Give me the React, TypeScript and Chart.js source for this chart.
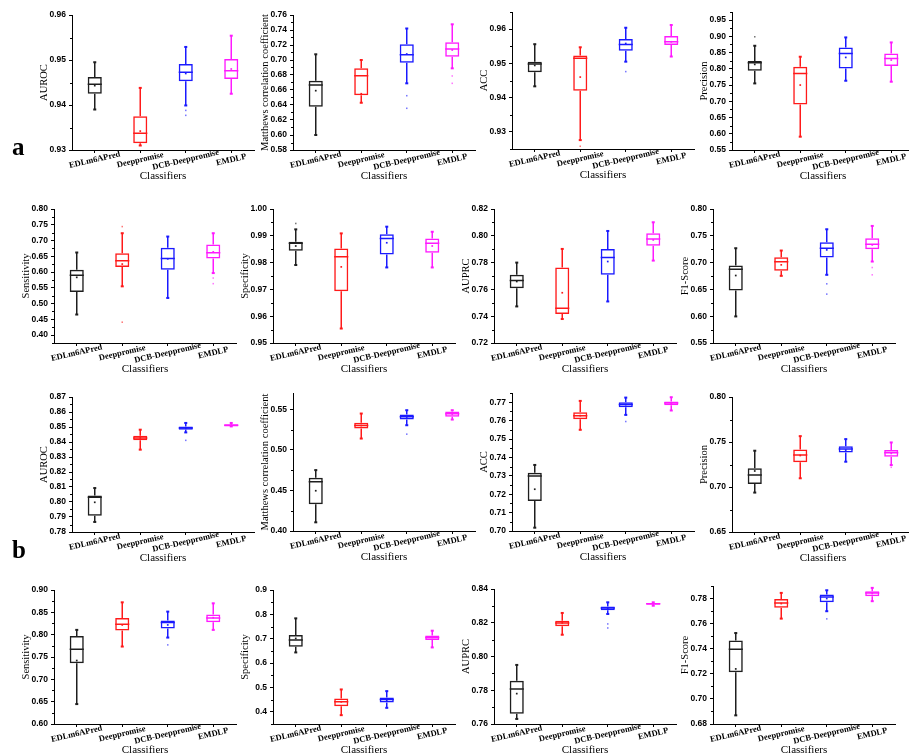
import React, { useEffect, useRef } from 'react';
import { Chart, registerables } from 'chart.js';
Chart.register(...registerables);

// ---------- DATA ----------
const classifiers = ['EDLm6APred', 'Deeppromise', 'DCB-Deeppromise', 'EMDLP'];

// each row: [whiskerLow, q1, median, q3, whiskerHigh, mean]
const aAurocBox = [[0.9390, 0.9425, 0.9446, 0.9462, 0.9495, 0.9443], [0.9310, 0.9315, 0.9337, 0.9375, 0.9438, 0.9342], [0.9399, 0.9453, 0.9473, 0.9491, 0.9529, 0.9470], [0.9425, 0.9458, 0.9476, 0.9502, 0.9554, 0.9480]];
const aAurocOut = [[], [], [0.9388, 0.9377], []];
const aMccBox = [[0.6000, 0.6378, 0.6667, 0.6724, 0.7076, 0.6591], [0.6430, 0.6530, 0.6790, 0.6890, 0.7000, 0.6550], [0.6689, 0.6964, 0.7070, 0.7210, 0.7420, 0.7080], [0.6889, 0.7044, 0.7147, 0.7236, 0.7476, 0.7133]];
const aMccOut = [[], [], [0.6524, 0.6356], [0.6787, 0.6689]];
const aAccBox = [[0.9433, 0.9474, 0.9498, 0.9505, 0.9556, 0.9494], [0.9276, 0.9420, 0.9515, 0.9523, 0.9547, 0.9460], [0.9505, 0.9537, 0.9555, 0.9571, 0.9604, 0.9558], [0.9520, 0.9554, 0.9563, 0.9580, 0.9612, 0.9563]];
const aAccOut = [[], [0.9258], [0.9476], []];
const aPrecBox = [[0.7551, 0.7941, 0.8187, 0.8238, 0.8710, 0.8136], [0.5910, 0.6905, 0.7859, 0.8064, 0.8372, 0.7500], [0.7633, 0.8013, 0.8474, 0.8659, 0.8967, 0.8351], [0.7603, 0.8085, 0.8320, 0.8474, 0.8813, 0.8270]];
const aPrecOut = [[0.8987], [], [], []];
const aSensBox = [[0.4653, 0.5368, 0.5895, 0.6074, 0.6620, 0.5832], [0.5547, 0.6158, 0.6358, 0.6600, 0.7232, 0.6253], [0.5179, 0.6074, 0.6432, 0.6768, 0.7126, 0.6420], [0.5968, 0.6432, 0.6610, 0.6874, 0.7232, 0.6640]];
const aSensOut = [[], [0.7442, 0.4410], [], [0.5810, 0.5632]];
const aSpecBox = [[0.9791, 0.9844, 0.9872, 0.9878, 0.9924, 0.9862], [0.9554, 0.9693, 0.9822, 0.9853, 0.9909, 0.9784], [0.9782, 0.9830, 0.9890, 0.9906, 0.9934, 0.9874], [0.9782, 0.9837, 0.9872, 0.9890, 0.9915, 0.9862]];
const aSpecOut = [[0.9946], [], [], []];
const aAuprcBox = [[0.7473, 0.7609, 0.7666, 0.7709, 0.7800, 0.7659], [0.7379, 0.7416, 0.7460, 0.7763, 0.7902, 0.7575], [0.7510, 0.7709, 0.7838, 0.7902, 0.8036, 0.7808], [0.7815, 0.7925, 0.7977, 0.8019, 0.8101, 0.7969]];
const aAuprcOut = [[], [], [], []];
const aF1Box = [[0.5996, 0.6480, 0.6877, 0.6945, 0.7268, 0.6759], [0.6753, 0.6846, 0.7014, 0.7101, 0.7225, 0.6958], [0.6772, 0.7094, 0.7268, 0.7380, 0.7622, 0.7237], [0.7020, 0.7249, 0.7342, 0.7454, 0.7684, 0.7330]];
const aF1Out = [[], [], [0.6604, 0.6412], [0.6908, 0.6772]];

const bAurocBox = [[0.7867, 0.7909, 0.8031, 0.8044, 0.8093, 0.7998], [0.8349, 0.8411, 0.8427, 0.8442, 0.8482, 0.8427], [0.8464, 0.8482, 0.8493, 0.8504, 0.8527, 0.8491], [0.8504, 0.8504, 0.8511, 0.8518, 0.8527, 0.8511]];
const bAurocOut = [[], [], [0.8411], []];
const bMccBox = [[0.4107, 0.4328, 0.4607, 0.4656, 0.4750, 0.4496], [0.5139, 0.5262, 0.5299, 0.5332, 0.5447, 0.5299], [0.5303, 0.5373, 0.5406, 0.5434, 0.5488, 0.5404], [0.5373, 0.5406, 0.5443, 0.5471, 0.5488, 0.5441]];
const bMccOut = [[], [], [0.5193], []];
const bAccBox = [[0.7018, 0.7163, 0.7299, 0.7317, 0.7359, 0.7227], [0.7550, 0.7608, 0.7627, 0.7646, 0.7707, 0.7627], [0.7631, 0.7673, 0.7687, 0.7700, 0.7725, 0.7687], [0.7655, 0.7684, 0.7695, 0.7704, 0.7727, 0.7695]];
const bAccOut = [[], [], [0.7595], []];
const bPrecBox = [[0.6938, 0.7034, 0.7134, 0.7208, 0.7403, 0.7178], [0.7097, 0.7274, 0.7355, 0.7418, 0.7565, 0.7350], [0.7281, 0.7384, 0.7421, 0.7454, 0.7532, 0.7410], [0.7244, 0.7337, 0.7381, 0.7410, 0.7495, 0.7373]];
const bPrecOut = [[], [], [], [0.7219]];
const bSensBox = [[0.6446, 0.7362, 0.7675, 0.7972, 0.8107, 0.7421], [0.7734, 0.8092, 0.8233, 0.8375, 0.8724, 0.8218], [0.7935, 0.8136, 0.8270, 0.8315, 0.8516, 0.8218], [0.8107, 0.8278, 0.8375, 0.8449, 0.8702, 0.8380]];
const bSensOut = [[], [], [0.7771], []];
const bSpecBox = [[0.6438, 0.6671, 0.6945, 0.7150, 0.7836, 0.7014], [0.3863, 0.4233, 0.4411, 0.4548, 0.4918, 0.4411], [0.4164, 0.4384, 0.4507, 0.4589, 0.4849, 0.4480], [0.6644, 0.6945, 0.7055, 0.7137, 0.7329, 0.7055]];
const bSpecOut = [[], [], [], []];
const bAuprcBox = [[0.7630, 0.7661, 0.7807, 0.7857, 0.7950, 0.7780], [0.8129, 0.8179, 0.8199, 0.8212, 0.8258, 0.8199], [0.8252, 0.8274, 0.8287, 0.8297, 0.8321, 0.8287], [0.8301, 0.8307, 0.8313, 0.8317, 0.8321, 0.8313]];
const bAuprcOut = [[], [], [0.8193, 0.8169], []];
const bF1Box = [[0.6869, 0.7212, 0.7395, 0.7465, 0.7525, 0.7239], [0.7640, 0.7726, 0.7765, 0.7797, 0.7845, 0.7760], [0.7699, 0.7771, 0.7813, 0.7832, 0.7866, 0.7800], [0.7779, 0.7819, 0.7845, 0.7859, 0.7885, 0.7840]];
const bF1Out = [[], [], [0.7638], []];

// y-axis tick labels (major ticks)
const ticksAAuroc = [0.93, 0.94, 0.95, 0.96];
const ticksAMcc = [0.58, 0.60, 0.62, 0.64, 0.66, 0.68, 0.70, 0.72, 0.74, 0.76];
const ticksAAcc = [0.93, 0.94, 0.95, 0.96];
const ticksAPrec = [0.55, 0.60, 0.65, 0.70, 0.75, 0.80, 0.85, 0.90, 0.95];
const ticksASens = [0.40, 0.45, 0.50, 0.55, 0.60, 0.65, 0.70, 0.75, 0.80];
const ticksASpec = [0.95, 0.96, 0.97, 0.98, 0.99, 1.00];
const ticksAAuprc = [0.72, 0.74, 0.76, 0.78, 0.80, 0.82];
const ticksAF1 = [0.55, 0.60, 0.65, 0.70, 0.75, 0.80];
const ticksBAuroc = [0.78, 0.79, 0.80, 0.81, 0.82, 0.83, 0.84, 0.85, 0.86, 0.87];
const ticksBMcc = [0.40, 0.45, 0.50, 0.55];
const ticksBAcc = [0.70, 0.71, 0.72, 0.73, 0.74, 0.75, 0.76, 0.77];
const ticksBPrec = [0.65, 0.70, 0.75, 0.80];
const ticksBSens = [0.60, 0.65, 0.70, 0.75, 0.80, 0.85, 0.90];
const ticksBSpec = [0.4, 0.5, 0.6, 0.7, 0.8, 0.9];
const ticksBAuprc = [0.76, 0.78, 0.80, 0.82, 0.84];
const ticksBF1 = [0.68, 0.70, 0.72, 0.74, 0.76, 0.78];

const metricTitles = ['AUROC', 'Matthews correlation coefficient', 'ACC', 'Precision', 'Sensitivity', 'Specificity', 'AUPRC', 'F1-Score'];

type Panel = { title: string; box: number[][]; out: number[][]; ticks: number[]; min: number; max: number; dec: number };

const panels: Panel[] = [
  { title: metricTitles[0], box: aAurocBox, out: aAurocOut, ticks: ticksAAuroc, min: 0.93, max: 0.96, dec: 2 },
  { title: metricTitles[1], box: aMccBox, out: aMccOut, ticks: ticksAMcc, min: 0.58, max: 0.76, dec: 2 },
  { title: metricTitles[2], box: aAccBox, out: aAccOut, ticks: ticksAAcc, min: 0.925, max: 0.965, dec: 2 },
  { title: metricTitles[3], box: aPrecBox, out: aPrecOut, ticks: ticksAPrec, min: 0.55, max: 0.975, dec: 2 },
  { title: metricTitles[4], box: aSensBox, out: aSensOut, ticks: ticksASens, min: 0.375, max: 0.80, dec: 2 },
  { title: metricTitles[5], box: aSpecBox, out: aSpecOut, ticks: ticksASpec, min: 0.95, max: 1.00, dec: 2 },
  { title: metricTitles[6], box: aAuprcBox, out: aAuprcOut, ticks: ticksAAuprc, min: 0.72, max: 0.82, dec: 2 },
  { title: metricTitles[7], box: aF1Box, out: aF1Out, ticks: ticksAF1, min: 0.55, max: 0.80, dec: 2 },
  { title: metricTitles[0], box: bAurocBox, out: bAurocOut, ticks: ticksBAuroc, min: 0.78, max: 0.87, dec: 2 },
  { title: metricTitles[1], box: bMccBox, out: bMccOut, ticks: ticksBMcc, min: 0.40, max: 0.57, dec: 2 },
  { title: metricTitles[2], box: bAccBox, out: bAccOut, ticks: ticksBAcc, min: 0.70, max: 0.775, dec: 2 },
  { title: metricTitles[3], box: bPrecBox, out: bPrecOut, ticks: ticksBPrec, min: 0.65, max: 0.80, dec: 2 },
  { title: metricTitles[4], box: bSensBox, out: bSensOut, ticks: ticksBSens, min: 0.60, max: 0.90, dec: 2 },
  { title: metricTitles[5], box: bSpecBox, out: bSpecOut, ticks: ticksBSpec, min: 0.35, max: 0.90, dec: 1 },
  { title: metricTitles[6], box: bAuprcBox, out: bAuprcOut, ticks: ticksBAuprc, min: 0.76, max: 0.84, dec: 2 },
  { title: metricTitles[7], box: bF1Box, out: bF1Out, ticks: ticksBF1, min: 0.68, max: 0.79, dec: 2 },
];

// ---------- LAYOUT / STYLE ----------
const rowLefts = [[72, 293, 512, 732], [54, 273, 494, 713], [72, 293, 512, 732], [54, 273, 494, 713]];
const panelTops = [[15, 15, 12, 12], [209, 209, 209, 209], [397, 393, 393, 397], [590, 590, 589, 586]];
const panelBottoms = [[150, 150, 149, 150], [343, 343, 343, 343], [532, 531, 531, 532], [724, 724, 724, 724]];
const PLOT_W = 184;
const PAD_L = 62;
const PAD_T = 10;
const PAD_B = 36;

const seriesColors = ['#1e1e1e', '#ff1a1a', '#1a1aff', '#ff1aff'];
const outlierColors = ['rgba(30,30,30,0.6)', 'rgba(255,30,30,0.6)', 'rgba(30,30,255,0.6)', 'rgba(255,30,255,0.6)'];

function BoxPanel({ p, left, top, bottom }: { p: Panel; left: number; top: number; bottom: number }) {
  const ref = useRef<HTMLCanvasElement>(null);
  const w = PAD_L + PLOT_W + 2;
  const h = PAD_T + (bottom - top) + PAD_B;

  useEffect(() => {
    if (!ref.current) return;
    const extras = {
      id: 'boxExtras',
      afterDatasetsDraw(chart: any) {
        const { ctx, scales, chartArea } = chart;
        const y = scales.y;
        const x = scales.x;
        const meta = chart.getDatasetMeta(0);
        p.box.forEach((b, i) => {
          const el = meta.data[i];
          const cx = el.x;
          const bw = el.width;
          ctx.save();
          ctx.strokeStyle = seriesColors[i];
          ctx.fillStyle = seriesColors[i];
          ctx.lineWidth = 1.5;
          const yLo = y.getPixelForValue(b[0]);
          const yQ1 = y.getPixelForValue(b[1]);
          const yMed = y.getPixelForValue(b[2]);
          const yQ3 = y.getPixelForValue(b[3]);
          const yHi = y.getPixelForValue(b[4]);
          ctx.beginPath();
          ctx.moveTo(cx, yQ3); ctx.lineTo(cx, yHi);
          ctx.moveTo(cx, yQ1); ctx.lineTo(cx, yLo);
          ctx.moveTo(cx - bw / 2, yMed); ctx.lineTo(cx + bw / 2, yMed);
          ctx.stroke();
          ctx.fillRect(cx - 1.5, yHi - 1, 3, 2);
          ctx.fillRect(cx - 1.5, yLo - 1, 3, 2);
          ctx.restore();
        });
        // minor ticks on y axis
        const t = p.ticks;
        const step = t[1] - t[0];
        ctx.save();
        ctx.strokeStyle = '#000';
        ctx.lineWidth = 1;
        ctx.beginPath();
        for (let v = t[0] - step / 2; v <= p.max + 1e-9; v += step) {
          if (v < p.min - 1e-9) continue;
          const py = Math.round(y.getPixelForValue(v)) + 0.5;
          ctx.moveTo(chartArea.left - 2, py);
          ctx.lineTo(chartArea.left, py);
        }
        ctx.stroke();
        ctx.restore();
        // category labels (rotated, centred on ticks)
        ctx.save();
        ctx.fillStyle = '#000';
        ctx.font = 'bold 8.5px "Liberation Serif"';
        ctx.textAlign = 'center';
        ctx.textBaseline = 'middle';
        classifiers.forEach((c, i) => {
          const px = x.getPixelForValue(i);
          ctx.save();
          ctx.translate(px, chartArea.bottom + 10);
          ctx.rotate(-13 * Math.PI / 180);
          ctx.fillText(c, 0, 0);
          ctx.restore();
        });
        // x-axis title
        ctx.font = '11px "Liberation Serif"';
        ctx.fillText('Classifiers', (chartArea.left + chartArea.right) / 2, chartArea.bottom + 26);
        // y-axis title
        ctx.font = '10.5px "Liberation Serif"';
        ctx.translate(chartArea.left - 28, (chartArea.top + chartArea.bottom) / 2);
        ctx.rotate(-Math.PI / 2);
        ctx.fillText(p.title, 0, 0);
        ctx.restore();
      },
    };

    const chart = new Chart(ref.current, {
      type: 'bar',
      data: {
        labels: classifiers,
        datasets: [
          {
            type: 'bar',
            data: p.box.map((b) => [b[1], b[3]]) as any,
            backgroundColor: 'rgba(255,255,255,0)',
            borderColor: seriesColors,
            borderWidth: 1.5,
            borderSkipped: false,
            barPercentage: 0.31,
            categoryPercentage: 1,
          } as any,
          {
            type: 'scatter',
            data: p.box.map((b, i) => ({ x: classifiers[i], y: b[5] })) as any,
            pointStyle: 'rect',
            pointRadius: 1.2,
            backgroundColor: seriesColors,
            borderWidth: 0,
          } as any,
          {
            type: 'scatter',
            data: p.out.flatMap((arr, i) => arr.map((v) => ({ x: classifiers[i], y: v, c: i }))) as any,
            pointStyle: 'rect',
            pointRadius: 1.1,
            backgroundColor: (ctx: any) => outlierColors[ctx.raw ? ctx.raw.c : 0],
            borderWidth: 0,
          } as any,
        ],
      },
      options: {
        animation: false,
        responsive: false,
        maintainAspectRatio: false,
        events: [],
        layout: { padding: { top: PAD_T, left: 0, right: 2, bottom: 0 } },
        plugins: { legend: { display: false }, tooltip: { enabled: false }, title: { display: false } },
        scales: {
          x: {
            type: 'category',
            offset: true,
            afterFit: (s: any) => { s.height = PAD_B; },
            ticks: { display: false },
            grid: { display: true, drawOnChartArea: false, drawTicks: true, tickLength: 3, offset: false, color: '#000', lineWidth: 1 },
            border: { display: true, color: '#000', width: 1 },
          },
          y: {
            type: 'linear',
            min: p.min,
            max: p.max,
            afterFit: (s: any) => { s.width = PAD_L; },
            afterBuildTicks: (s: any) => { s.ticks = p.ticks.map((v) => ({ value: v })); },
            ticks: {
              color: '#000',
              padding: 3,
              font: { family: '"Liberation Sans", sans-serif', size: 8.5, weight: 'bold' },
              callback: (v: any) => Number(v).toFixed(p.dec),
            },
            grid: { display: true, drawOnChartArea: false, drawTicks: true, tickLength: 3, color: '#000', lineWidth: 1 },
            border: { display: true, color: '#000', width: 1 },
          },
        },
      } as any,
      plugins: [extras],
    });
    return () => chart.destroy();
  }, [p, top, bottom]);

  return (
    <canvas
      ref={ref}
      width={w}
      height={h}
      style={{ position: 'absolute', left: left - PAD_L, top: top - PAD_T, width: w, height: h }}
    />
  );
}

export default function App() {
  return (
    <div style={{ position: 'fixed', left: 0, top: 0, width: 909, height: 755, overflow: 'hidden', background: '#fff' }}>
      {panels.map((p, k) => {
        const r = Math.floor(k / 4);
        const c = k % 4;
        return <BoxPanel key={k} p={p} left={rowLefts[r][c]} top={panelTops[r][c]} bottom={panelBottoms[r][c]} />;
      })}
      <div style={{ position: 'absolute', left: 12, top: 134, font: 'bold 25px "Liberation Serif"', lineHeight: '25px', color: '#000' }}>a</div>
      <div style={{ position: 'absolute', left: 12, top: 537, font: 'bold 25px "Liberation Serif"', lineHeight: '25px', color: '#000' }}>b</div>
    </div>
  );
}
